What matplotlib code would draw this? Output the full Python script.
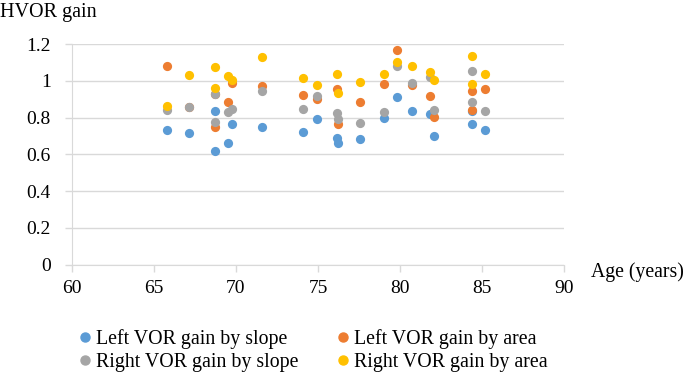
import matplotlib.pyplot as plt
from matplotlib.lines import Line2D

# edad de cada sujeto (años)
edad = [65.8, 67.15, 68.7, 68.75, 69.5, 69.75, 71.6, 74.1, 74.95, 76.15,
        76.2, 77.55, 79.05, 79.8, 80.7, 81.85, 82.05, 84.4, 84.35, 85.2]

izq_pendiente = [0.733, 0.716, 0.835, 0.620, 0.664, 0.765, 0.751, 0.724, 0.793, 0.687,
                 0.664, 0.684, 0.795, 0.911, 0.836, 0.820, 0.700, 0.835, 0.767, 0.731]
izq_area = [1.078, 0.855, 0.930, 0.751, 0.882, 0.987, 0.969, 0.925, 0.900, 0.955,
            0.765, 0.885, 0.982, 1.169, 0.976, 0.915, 0.805, 0.945, 0.840, 0.956]
der_pendiente = [0.842, 0.855, 0.929, 0.778, 0.831, 0.849, 0.947, 0.845, 0.915, 0.824,
                 0.791, 0.773, 0.829, 1.082, 0.987, 1.020, 0.842, 1.051, 0.887, 0.838]
der_area = [0.864, 1.033, 0.962, 1.075, 1.024, 1.005, 1.127, 1.016, 0.978, 1.038,
            0.936, 0.995, 1.036, 1.100, 1.078, 1.047, 1.002, 1.136, 0.982, 1.036]

series = [
    ("Left VOR gain by slope", izq_pendiente, "#5B9BD5"),
    ("Left VOR gain by area", izq_area, "#ED7D31"),
    ("Right VOR gain by slope", der_pendiente, "#A5A5A5"),
    ("Right VOR gain by area", der_area, "#FFC000"),
]

plt.rcParams['font.family'] = ['Liberation Serif', 'DejaVu Serif']

fig = plt.figure(figsize=(6.86, 3.73), dpi=100)
ax = fig.add_axes([0.1045, 0.2905, 0.7181, 0.5915])

for nombre, valores, color in series:
    ax.scatter(edad, valores, s=44, color=color, linewidths=0, zorder=3)

ax.set_xlim(60, 90)
ax.set_ylim(0, 1.2)
ax.set_xticks(range(60, 91, 5))
ax.set_yticks([0, 0.2, 0.4, 0.6, 0.8, 1, 1.2])
ax.set_yticklabels(["0", "0.2", "0.4", "0.6", "0.8", "1", "1.2"])
ax.grid(axis='y', color='#D9D9D9', linewidth=1)
ax.set_axisbelow(True)
for lado in ['top', 'right']:
    ax.spines[lado].set_visible(False)
ax.spines['left'].set_color('#D9D9D9')
ax.spines['bottom'].set_color('#D9D9D9')
ax.tick_params(axis='both', colors='#D9D9D9', labelcolor='black', labelsize=14,
               length=5, width=1)
ax.tick_params(axis='y', pad=10)
ax.tick_params(axis='x', pad=6)

fig.text(0.0, 0.966, "HVOR gain", fontsize=14.5, va='center', ha='left')
fig.text(0.861, 0.27, "Age (years)", fontsize=14.2, va='center', ha='left')

# la leyenda se llena por columnas: orden para que las filas queden como en Excel
orden = [0, 2, 1, 3]
handles = [Line2D([], [], marker='o', linestyle='', color=series[i][2], markersize=6.5,
                  label=series[i][0]) for i in orden]
fig.legend(handles=handles, loc='center', bbox_to_anchor=(0.455, 0.061), ncol=2,
           frameon=False, fontsize=14.3, handletextpad=0.1, columnspacing=1.8,
           labelspacing=0.2, handlelength=0.9, borderaxespad=0)

fig.savefig("out.png", dpi=100)
